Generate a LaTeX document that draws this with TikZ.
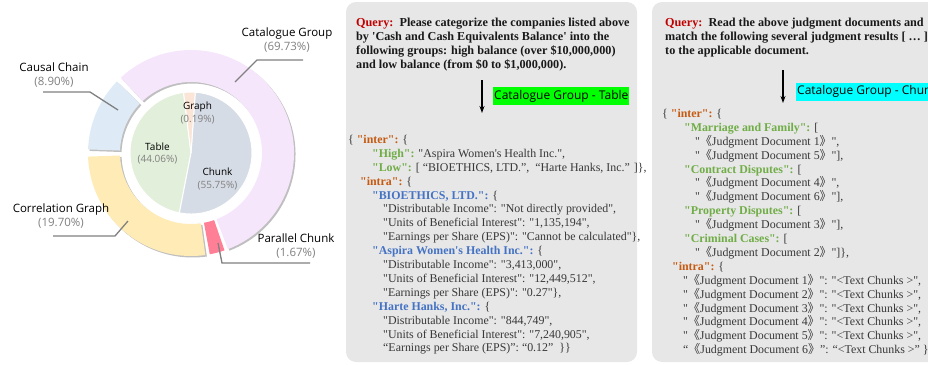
\documentclass[tikz,border=0pt]{standalone}
\usepackage{fontspec}
\setmainfont{Liberation Serif}
\newfontfamily\tnr{Liberation Serif}
\newfontfamily\comic{Open Sans}
\newfontfamily\cjk{Noto Sans CJK SC}
\usetikzlibrary{calc,arrows.meta}

\definecolor{panelgray}{RGB}{231,231,231}
\definecolor{bodygray}{RGB}{55,55,55}
\definecolor{qred}{RGB}{192,0,0}
\definecolor{keyorange}{RGB}{197,90,17}
\definecolor{keygreen}{RGB}{112,173,71}
\definecolor{keyblue}{RGB}{68,114,196}
\definecolor{pctgray}{RGB}{128,128,128}
\definecolor{catpink}{RGB}{245,230,252}
\definecolor{causblue}{RGB}{222,235,247}
\definecolor{corryellow}{RGB}{255,235,181}
\definecolor{parred}{RGB}{255,128,150}
\definecolor{tabgreen}{RGB}{226,239,218}
\definecolor{chunkblue}{RGB}{214,220,229}
\definecolor{graphpeach}{RGB}{251,229,214}
\definecolor{taggreen}{RGB}{0,255,0}
\definecolor{tagcyan}{RGB}{0,255,255}

\newcommand{\kor}[1]{\textcolor{keyorange}{\bfseries #1}}
\newcommand{\kgr}[1]{\textcolor{keygreen}{\bfseries #1}}
\newcommand{\kbl}[1]{\textcolor{keyblue}{\bfseries #1}}
\newcommand{\lbk}{{\cjk 《}}
\newcommand{\rbk}{{\cjk 》}}
\newcommand{\pct}[1]{\textcolor{pctgray}{(#1\%)}}
% ring piece: colour, start, end, inner r, outer r
\newcommand{\ringseg}[5]{\fill[#1] (#2:#5) arc[start angle=#2, end angle=#3, radius=#5] -- (#3:#4) arc[start angle=#3, end angle=#2, radius=#4] -- cycle;}
\newcommand{\pieseg}[3]{\filldraw[fill=#1, draw=white, line width=1pt] (0,0) -- (#2:61) arc[start angle=#2, end angle=#3, radius=61] -- cycle;}

\begin{document}
\begin{tikzpicture}[x=1pt,y=-1pt,
    panel/.style={fill=panelgray, rounded corners=10pt},
    querytext/.style={font=\fontsize{12.2}{13.9}\selectfont\tnr\bfseries, text=black!90, align=left, inner sep=0pt, anchor=north west},
    jsontext/.style={font=\fontsize{11.9}{13.9}\selectfont\tnr, text=bodygray, align=left, inner sep=0pt, anchor=north west},
    tag/.style={font=\fontsize{12}{12}\selectfont\comic, inner xsep=1pt, inner ysep=0pt, minimum height=18pt},
    flow/.style={-{Stealth[length=7pt,width=5pt]}, line width=1.4pt},
    leader/.style={draw=pctgray, line width=1.3pt},
    outlabel/.style={font=\fontsize{11.5}{14.5}\selectfont\comic, align=center},
    inlabel/.style={font=\fontsize{10}{12.5}\selectfont\comic, align=center}]
\useasboundingbox (0,0) rectangle (928,364);
\clip (0,0) rectangle (928,364);

% chart
\begin{scope}[shift={(191,153)}, y={(0pt,1pt)}]
  \begin{scope}[shift={(1.5,-1.5)}]
    \ringseg{black!25}{291}{493}{71}{103}
    \ringseg{black!25}{136}{178}{71}{103}
    \ringseg{black!25}{182}{278}{71}{103}
  \end{scope}
  \ringseg{catpink}{291}{493}{71}{103}
  \ringseg{causblue}{136}{178}{71}{103}
  \ringseg{corryellow}{182}{278}{71}{103}
  \ringseg{parred}{280.5}{289}{71}{103}
  \pieseg{tabgreen}{97}{259}
  \pieseg{chunkblue}{259}{446}
  \pieseg{graphpeach}{86}{97}
\end{scope}

\node (cat) [outlabel] at (287,40) {Catalogue Group\\\pct{69.73}};
\node (caus) [outlabel] at (54,75) {Causal Chain\\\pct{8.90}};
\node (corr) [outlabel] at (61,216) {Correlation Graph\\\pct{19.70}};
\node (par) [outlabel] at (296,246) {Parallel Chunk\\\pct{1.67}};
\node (graph) [inlabel] at (197.5,113) {Graph\\\pct{0.19}};
\node (table) [inlabel] at (157.5,153.5) {Table\\\pct{44.06}};
\node (chunk) [inlabel] at (217.5,179) {Chunk\\\pct{55.75}};

\coordinate (cat-a) at (303,60);  \coordinate (cat-b) at (257,60);  \coordinate (cat-c) at (235,82);
\coordinate (caus-a) at (43,92);  \coordinate (caus-b) at (90,92);  \coordinate (caus-c) at (118,110);
\coordinate (corr-a) at (53,236); \coordinate (corr-b) at (115,236); \coordinate (corr-c) at (128,221);
\coordinate (par-a) at (310,263); \coordinate (par-b) at (222,263); \coordinate (par-c) at (218,243);
\draw[leader] (cat-a) -- (cat-b) -- (cat-c);
\draw[leader] (caus-a) -- (caus-b) -- (caus-c);
\draw[leader] (corr-a) -- (corr-b) -- (corr-c);
\draw[leader] (par-a) -- (par-b) -- (par-c);

% left example
\fill[panel] (346,2) rectangle (637,362);
\node (queryL) [querytext] at (356,18) {\textcolor{qred}{Query:}~~Please categorize the companies listed above\\
by 'Cash and Cash Equivalents Balance' into the\\
following groups: high balance (over \$10,000,000)\\
and low balance (from \$0 to \$1,000,000).};
\coordinate (arrL-top) at (482,80);
\coordinate (arrL-end) at (482,113);
\draw[flow] (arrL-top) -- (arrL-end);
\node (tagL) [tag, fill=taggreen, anchor=west] at (493,96) {Catalogue Group - Table};
\node (jsonL) [jsontext] at (348,135) {\{ \kor{"inter":} \{\\
\hspace*{24pt}\kgr{"High":} "Aspira Women's Health Inc.",\\
\hspace*{24pt}\kgr{"Low":} [ “BIOETHICS, LTD.”,~ “Harte Hanks, Inc.” ]\},\\
\hspace*{12pt}\kor{"intra":} \{\\
\hspace*{24pt}\kbl{"BIOETHICS, LTD.":} \{\\
\hspace*{35pt}"Distributable Income": "Not directly provided",\\
\hspace*{35pt}"Units of Beneficial Interest": "1,135,194",\\
\hspace*{35pt}"Earnings per Share (EPS)": "Cannot be calculated"\},\\
\hspace*{24pt}\kbl{"Aspira Women's Health Inc.":} \{\\
\hspace*{35pt}"Distributable Income": "3,413,000",\\
\hspace*{35pt}"Units of Beneficial Interest": "12,449,512",\\
\hspace*{35pt}"Earnings per Share (EPS)": "0.27"\},\\
\hspace*{24pt}\kbl{"Harte Hanks, Inc.":} \{\\
\hspace*{35pt}"Distributable Income": "844,749",\\
\hspace*{35pt}"Units of Beneficial Interest": "7,240,905",\\
\hspace*{35pt}“Earnings per Share (EPS)”: “0.12”~~\}\}};

% right example
\fill[panel] (652,2) rectangle (945,362);
\node (queryR) [querytext] at (665,18) {\textcolor{qred}{Query:}~~Read the above judgment documents and\\
match the following several judgment results [ … ]\\
to the applicable document.};
\coordinate (arrR-top) at (783,70);
\coordinate (arrR-end) at (783,103);
\draw[flow] (arrR-top) -- (arrR-end);
\node (tagR) [tag, fill=tagcyan, anchor=west] at (796,91.5) {Catalogue Group - Chunk};
\node (jsonR) [jsontext] at (662,109) {\{ \kor{"inter":} \{\\
\hspace*{22pt}\kgr{"Marriage and Family":} [\\
\hspace*{33pt}"\lbk Judgment Document 1\rbk",\\
\hspace*{33pt}"\lbk Judgment Document 5\rbk"],\\
\hspace*{22pt}\kgr{"Contract Disputes":} [\\
\hspace*{33pt}"\lbk Judgment Document 4\rbk",\\
\hspace*{33pt}"\lbk Judgment Document 6\rbk"],\\
\hspace*{22pt}\kgr{"Property Disputes":} [\\
\hspace*{33pt}"\lbk Judgment Document 3\rbk"],\\
\hspace*{22pt}\kgr{"Criminal Cases":} [\\
\hspace*{33pt}"\lbk Judgment Document 2\rbk"]\},\\
\hspace*{10pt}\kor{"intra":} \{\\
\hspace*{21pt}"\lbk Judgment Document 1\rbk": "<Text Chunks >",\\
\hspace*{21pt}"\lbk Judgment Document 2\rbk": "<Text Chunks >",\\
\hspace*{21pt}"\lbk Judgment Document 3\rbk": "<Text Chunks >",\\
\hspace*{21pt}"\lbk Judgment Document 4\rbk": "<Text Chunks >",\\
\hspace*{21pt}"\lbk Judgment Document 5\rbk": "<Text Chunks >",\\
\hspace*{21pt}“\lbk Judgment Document 6\rbk”: “<Text Chunks >” \}\}};
\end{tikzpicture}
\end{document}
